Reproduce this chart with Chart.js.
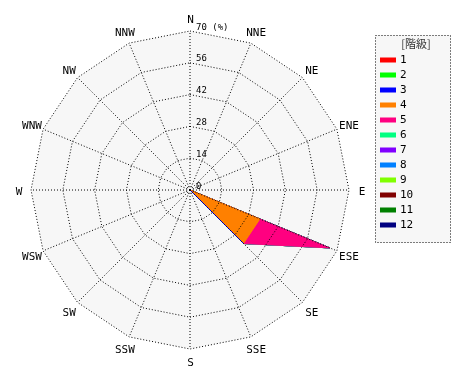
<!DOCTYPE html>
<html><head><meta charset="utf-8">
<script src="https://cdn.jsdelivr.net/npm/chart.js@4"></script>
<style>html,body{margin:0;padding:0;background:#fff}canvas{display:block}</style>
</head><body>
<canvas id="c" width="470" height="380"></canvas>
<script>
const directions = ['N','NNE','NE','ENE','E','ESE','SE','SSE','S','SSW','SW','WSW','W','WNW','NW','NNW'];
const classLabels = ['1','2','3','4','5','6','7','8','9','10','11','12'];
const classColors = ['#ff0000','#00ff00','#0000ff','#ff8000','#ff0080','#00ff80','#8000ff','#0080ff','#80ff00','#800000','#008000','#000080'];
const tickValues = [0,14,28,42,56,70];
const unitLabel = '(%)';
const legendTitle = '[階級]';

//                 N  NNE NE ENE E  ESE   SE    SSE S SSW SW WSW W WNW NW NNW
const class1  = [0, 0, 0, 0, 0, 0,    0,    0, 0, 0, 0, 0, 0, 0, 0, 0];
const class2  = [0, 0, 0, 0, 0, 0,    0,    0, 0, 0, 0, 0, 0, 0, 0, 0];
const class3  = [0, 0, 0, 0, 0, 0,    33.3, 0, 0, 0, 0, 0, 0, 0, 0, 0];
const class4  = [0, 0, 0, 0, 0, 33.3, 0,    0, 0, 0, 0, 0, 0, 0, 0, 0];
const class5  = [0, 0, 0, 0, 0, 33.3, 0,    0, 0, 0, 0, 0, 0, 0, 0, 0];
const class6  = [0, 0, 0, 0, 0, 0,    0,    0, 0, 0, 0, 0, 0, 0, 0, 0];
const class7  = [0, 0, 0, 0, 0, 0,    0,    0, 0, 0, 0, 0, 0, 0, 0, 0];
const class8  = [0, 0, 0, 0, 0, 0,    0,    0, 0, 0, 0, 0, 0, 0, 0, 0];
const class9  = [0, 0, 0, 0, 0, 0,    0,    0, 0, 0, 0, 0, 0, 0, 0, 0];
const class10 = [0, 0, 0, 0, 0, 0,    0,    0, 0, 0, 0, 0, 0, 0, 0, 0];
const class11 = [0, 0, 0, 0, 0, 0,    0,    0, 0, 0, 0, 0, 0, 0, 0, 0];
const class12 = [0, 0, 0, 0, 0, 0,    0,    0, 0, 0, 0, 0, 0, 0, 0, 0];
const classValues = [class1,class2,class3,class4,class5,class6,class7,class8,class9,class10,class11,class12];

// stacked (cumulative) values per class
const cumulative = [];
let running = directions.map(() => 0);
classValues.forEach(v => { running = running.map((s, i) => s + v[i]); cumulative.push(running.slice()); });

const datasets = classLabels.map((lab, k) => ({
  label: lab,
  data: cumulative[k],
  backgroundColor: classColors[k],
  borderColor: classColors[k],
  borderWidth: 1,
  pointRadius: 0,
  pointHoverRadius: 0,
  fill: 'origin'
}));

const MONO = '"DejaVu Sans Mono", monospace';

const roseDecor = {
  id: 'roseDecor',
  beforeDraw(chart) {
    const s = chart.scales.r, ctx = chart.ctx;
    const R = s.getDistanceFromCenterForValue(s.max);
    ctx.save();
    ctx.beginPath();
    directions.forEach((d, i) => {
      const p = s.getPointPosition(i, R);
      if (i === 0) ctx.moveTo(p.x, p.y); else ctx.lineTo(p.x, p.y);
    });
    ctx.closePath();
    ctx.fillStyle = '#f7f7f7';
    ctx.fill();
    ctx.restore();
  },
  afterDraw(chart) {
    const s = chart.scales.r, ctx = chart.ctx;
    const R = s.getDistanceFromCenterForValue(s.max);
    ctx.save();
    // direction labels
    ctx.fillStyle = '#000';
    ctx.font = '11px ' + MONO;
    ctx.textAlign = 'center';
    ctx.textBaseline = 'middle';
    directions.forEach((d, i) => {
      const p = s.getPointPosition(i, R + 12.5);
      ctx.fillText(d, p.x + 0.5, p.y + 2);
    });
    // radial tick labels
    ctx.font = '9px ' + MONO;
    ctx.textAlign = 'left';
    ctx.textBaseline = 'alphabetic';
    tickValues.forEach((v, i) => {
      const y = s.yCenter - s.getDistanceFromCenterForValue(v);
      const txt = i === tickValues.length - 1 ? v + ' ' + unitLabel : String(v);
      ctx.fillText(txt, s.xCenter + 6, y - 1.5);
    });
    // legend
    const lx = 375, ly = 35, lw = 76, lh = 208;
    ctx.fillStyle = '#f7f7f7';
    ctx.fillRect(lx, ly, lw, lh);
    ctx.setLineDash([1, 2]);
    ctx.strokeStyle = '#000';
    ctx.lineWidth = 1;
    ctx.strokeRect(lx + 0.5, ly + 0.5, lw - 1, lh - 1);
    ctx.setLineDash([]);
    ctx.fillStyle = '#333';
    ctx.font = '11px "Noto Sans CJK JP", sans-serif';
    ctx.textAlign = 'center';
    ctx.textBaseline = 'middle';
    ctx.fillText(legendTitle, lx + 41, ly + 9);
    ctx.font = '11px ' + MONO;
    ctx.textAlign = 'left';
    chart.data.datasets.forEach((ds, k) => {
      const y = ly + 25 + 15 * k;
      ctx.fillStyle = ds.backgroundColor;
      ctx.fillRect(lx + 5, y - 2.5, 16, 5);
      ctx.fillStyle = '#000';
      ctx.fillText(ds.label, lx + 25, y);
    });
    ctx.restore();
  }
};

new Chart(document.getElementById('c'), {
  type: 'radar',
  data: { labels: directions, datasets },
  options: {
    responsive: false,
    animation: false,
    events: [],
    layout: { padding: { left: 30, top: 31, right: 120, bottom: 30 } },
    elements: { line: { tension: 0 } },
    plugins: { legend: { display: false }, tooltip: { enabled: false } },
    scales: {
      r: {
        min: 0, max: 70,
        startAngle: 0,
        ticks: { stepSize: 14, display: false },
        pointLabels: { display: false },
        grid: { color: '#000', lineWidth: 1, circular: false, z: 1 },
        border: { dash: [1, 2] },
        angleLines: { color: '#000', lineWidth: 1, borderDash: [1, 2] }
      }
    }
  },
  plugins: [roseDecor]
});
</script>
</body></html>
